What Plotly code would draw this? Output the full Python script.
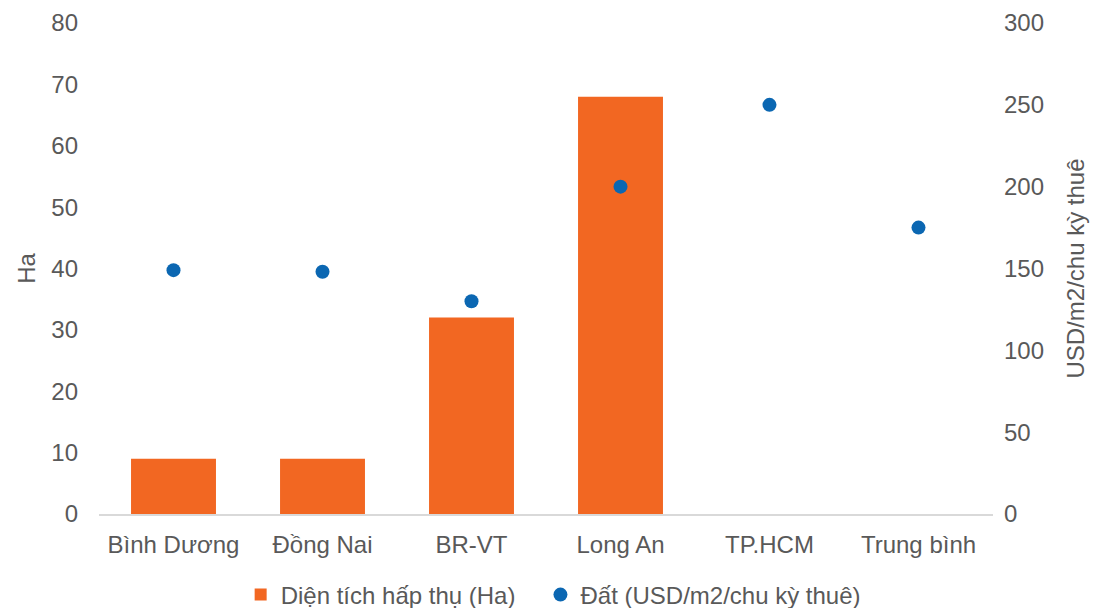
import plotly.graph_objects as go

categories = ["Bình Dương", "Đồng Nai", "BR-VT", "Long An", "TP.HCM", "Trung bình"]
area_ha = [9, 9, 32, 68, None, None]
price_usd = [149, 148, 130, 200, 250, 175]

ORANGE = "#F26722"
BLUE = "#0B67B2"
GREY = "#595959"
FONT = "Liberation Sans, Arial, sans-serif"
FS = 24

fig = go.Figure()
fig.add_trace(go.Bar(
    x=categories, y=area_ha, name="Diện tích hấp thụ (Ha)\u00a0\u00a0\u00a0",
    marker=dict(color=ORANGE, line=dict(width=0)), yaxis="y",
))
fig.add_trace(go.Scatter(
    x=categories, y=price_usd, name="Đất (USD/m2/chu kỳ thuê)",
    mode="markers", marker=dict(color=BLUE, size=14), yaxis="y2",
))

fig.update_layout(
    width=1094, height=608,
    margin=dict(l=99, r=101, t=23, b=94, autoexpand=False),
    paper_bgcolor="white", plot_bgcolor="white",
    font=dict(family=FONT, size=FS, color=GREY),
    bargap=0.43,
    showlegend=True,
    legend=dict(orientation="h", x=0.508, xanchor="center", y=-0.165, yanchor="middle",
                font=dict(size=FS, color=GREY), itemwidth=30, tracegroupgap=0),
    xaxis=dict(showgrid=False, showline=True, linecolor="#D9D9D9", linewidth=2,
               ticks="", tickfont=dict(size=FS, color=GREY), automargin=False,
               ticklabelstandoff=8),
    yaxis=dict(range=[0, 80], dtick=10, showgrid=False, zeroline=False, automargin=False,
               title=dict(text="Ha", font=dict(size=FS, color=GREY), standoff=8),
               tickfont=dict(size=FS, color=GREY), ticklabelstandoff=20),
    yaxis2=dict(range=[0, 300], dtick=50, overlaying="y", side="right", automargin=False,
                showgrid=False, zeroline=False,
                title=dict(text="USD/m2/chu kỳ thuê", font=dict(size=FS, color=GREY), standoff=24),
                tickfont=dict(size=FS, color=GREY), ticklabelstandoff=10),
)

fig.write_html("out.html")
